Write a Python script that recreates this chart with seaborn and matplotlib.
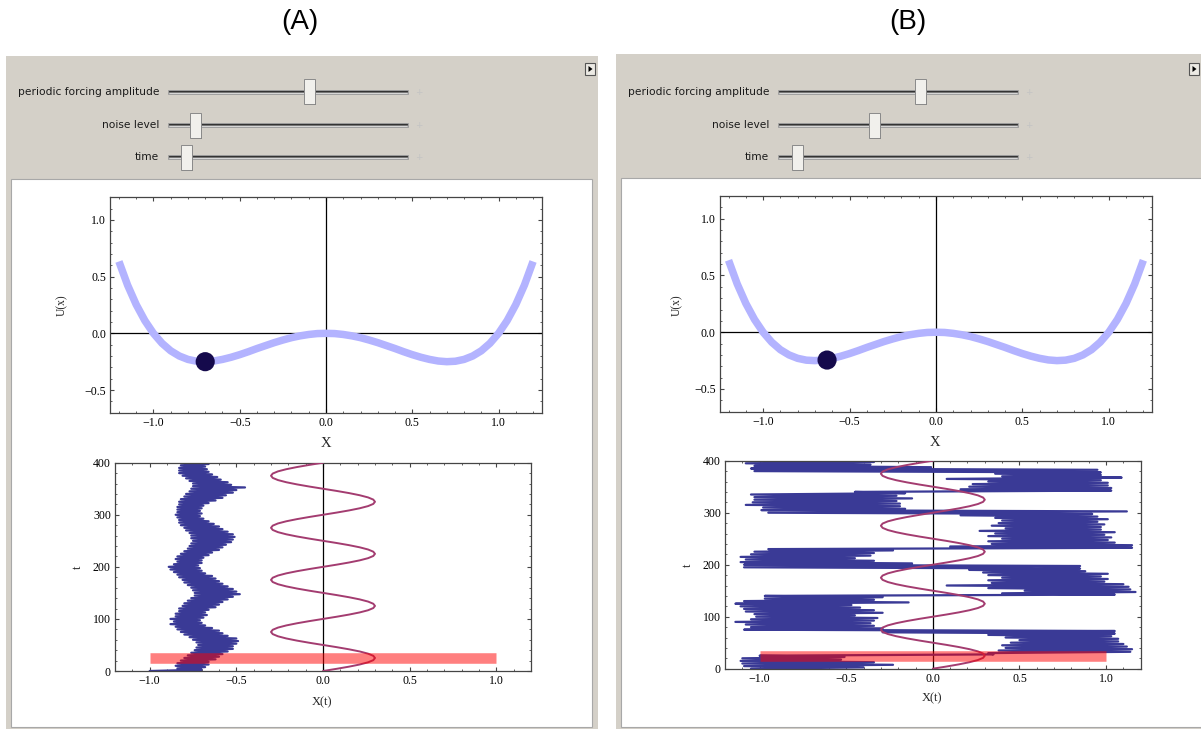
import numpy as np
import pandas as pd
import matplotlib
matplotlib.use("Agg")
import matplotlib.pyplot as plt
import seaborn as sns
from matplotlib.patches import Rectangle, Polygon
from matplotlib.ticker import MultipleLocator

# ---------------------------------------------------------------- data
# double-well potential U(x), sampled along the x axis
POT_X = [-1.2, -1.15, -1.1, -1.05, -1.0, -0.95, -0.9, -0.85, -0.8, -0.75, -0.7, -0.65, -0.6,
         -0.55, -0.5, -0.45, -0.4, -0.35, -0.3, -0.25, -0.2, -0.15, -0.1, -0.05, 0.0,
         0.05, 0.1, 0.15, 0.2, 0.25, 0.3, 0.35, 0.4, 0.45, 0.5, 0.55, 0.6, 0.65, 0.7,
         0.75, 0.8, 0.85, 0.9, 0.95, 1.0, 1.05, 1.1, 1.15, 1.2]
POT_U = [0.634, 0.426, 0.254, 0.113, 0.0, -0.088, -0.154, -0.200, -0.230, -0.246, -0.250, -0.244, -0.230,
         -0.211, -0.188, -0.162, -0.134, -0.108, -0.082, -0.059, -0.038, -0.022, -0.010, -0.002, 0.0,
         -0.002, -0.010, -0.022, -0.038, -0.059, -0.082, -0.108, -0.134, -0.162, -0.188, -0.211, -0.230, -0.244, -0.250,
         -0.246, -0.230, -0.200, -0.154, -0.088, 0.0, 0.113, 0.254, 0.426, 0.634]

# particle position on the potential at the current time
BALL_A = (-0.70, -0.25)
BALL_B = (-0.63, -0.245)

# periodic forcing: one cycle (period 100), repeated over t = 0..400
FORCING_PERIOD = 100
FORCING_CYCLE = [0.0, 0.078, 0.150, 0.212, 0.260, 0.290, 0.300, 0.290, 0.260, 0.212, 0.150, 0.078,
                 0.0, -0.078, -0.150, -0.212, -0.260, -0.290, -0.300, -0.290, -0.260, -0.212, -0.150, -0.078]
N_CYCLES = 4

# current time (red marker) and its x extent
CURRENT_T = 24.5
MARKER_X = (-1.0, 1.0)

# slider settings (fraction of track)
SLIDERS_A = {"periodic forcing amplitude": 0.592, "noise level": 0.117, "time": 0.081}
SLIDERS_B = {"periodic forcing amplitude": 0.594, "noise level": 0.405, "time": 0.082}

# noisy trajectory x(t): left / right extent of the path in each 5-unit time slice
TRAJ_T = list(range(0, 401, 5))
TRAJ_A_LEFT = [-1.00, -0.84, -0.85, -0.84, -0.82, -0.80, -0.78, -0.76, -0.74, -0.73, -0.72, -0.73, -0.75,
               -0.77, -0.80, -0.82, -0.84, -0.85, -0.88, -0.86, -0.88, -0.85, -0.85, -0.83, -0.83, -0.81,
               -0.80, -0.78, -0.76, -0.74, -0.74, -0.75, -0.76, -0.78, -0.80, -0.81, -0.83, -0.84, -0.86,
               -0.88, -0.89, -0.86, -0.84, -0.85, -0.84, -0.82, -0.80, -0.78, -0.77, -0.76, -0.75, -0.76,
               -0.76, -0.77, -0.79, -0.80, -0.82, -0.83, -0.83, -0.84, -0.85, -0.84, -0.84, -0.84, -0.83,
               -0.83, -0.82, -0.80, -0.79, -0.77, -0.76, -0.75, -0.75, -0.77, -0.79, -0.81, -0.83, -0.83,
               -0.83, -0.82, -0.78]
TRAJ_A_RIGHT = [-0.70, -0.68, -0.66, -0.66, -0.62, -0.60, -0.58, -0.55, -0.52, -0.52, -0.50, -0.49, -0.50,
                -0.55, -0.58, -0.60, -0.64, -0.68, -0.70, -0.71, -0.69, -0.67, -0.68, -0.66, -0.62, -0.60,
                -0.58, -0.55, -0.52, -0.48, -0.50, -0.52, -0.55, -0.58, -0.60, -0.62, -0.64, -0.68, -0.70,
                -0.71, -0.72, -0.70, -0.70, -0.69, -0.66, -0.64, -0.60, -0.58, -0.56, -0.53, -0.52, -0.51,
                -0.52, -0.55, -0.58, -0.60, -0.63, -0.66, -0.69, -0.71, -0.70, -0.71, -0.70, -0.69, -0.66,
                -0.62, -0.58, -0.56, -0.52, -0.50, -0.45, -0.53, -0.55, -0.59, -0.61, -0.64, -0.66, -0.67,
                -0.68, -0.66, -0.66]
TRAJ_B_LEFT = [-1.05, -1.09, -1.10, -1.11, -1.10, -1.00, 0.32, 0.38, 0.42, 0.40, 0.45, 0.50, 0.42,
               0.32, -0.29, -1.09, -1.05, -1.08, -1.14, -1.05, -1.02, -1.03, -1.08, -1.09, -1.11, -1.14,
               -1.09, -0.97, -0.97, 0.40, 0.53, 0.32, 0.08, 0.34, 0.32, 0.40, 0.32, 0.29, 0.21,
               -1.09, -1.09, -1.11, -1.08, -1.11, -1.05, -1.03, -0.95, 0.10, 0.34, 0.32, 0.40, 0.32,
               0.36, 0.27, 0.42, 0.34, 0.38, 0.40, 0.36, 0.16, -0.95, -0.99, -0.98, -1.08, -1.04,
               -1.03, -1.03, -1.05, -0.45, 0.16, 0.21, 0.23, 0.32, 0.08, 0.40, 0.36, -1.03, -1.05,
               -1.03, -1.08, -0.90]
TRAJ_B_RIGHT = [-0.40, -0.23, -0.34, -0.53, -0.51, 0.35, 1.14, 1.15, 1.12, 1.10, 1.07, 1.07, 1.03,
                1.05, 1.05, -0.29, -0.34, -0.36, -0.34, -0.32, -0.45, -0.29, -0.34, -0.42, -0.47, -0.14,
                -0.34, -0.29, 1.05, 1.17, 1.14, 1.13, 1.10, 0.99, 1.01, 0.97, 1.01, 0.88, 0.85,
                0.85, -0.12, -0.34, -0.45, -0.36, -0.34, -0.23, 1.15, 1.15, 1.05, 1.01, 1.03, 0.99,
                1.05, 0.97, 0.97, 0.99, 0.95, 1.01, 0.95, 0.92, 1.12, -0.16, -0.19, -0.19, -0.21,
                -0.12, -0.21, -0.16, 1.03, 1.03, 1.01, 1.01, 0.97, 1.09, 0.97, 0.97, 0.95, -0.01,
                -0.36, -0.34, 0.27]

# ---------------------------------------------------------------- style
sns.set_theme(style="white")
plt.rcParams["font.family"] = ["Liberation Serif", "DejaVu Serif"]
plt.rcParams["axes.unicode_minus"] = True

W, H = 1201, 729
fig = plt.figure(figsize=(W / 100, H / 100), dpi=100)
fig.patch.set_facecolor("white")

bg = fig.add_axes([0, 0, 1, 1])
bg.set_xlim(0, W)
bg.set_ylim(H, 0)
bg.axis("off")

PANEL_GREY = "#D4D0C8"
TRAJ_BLUE = "#3A3A96"
FORCE_COL = "#A33C70"
POT_COL = "#B3B3FF"
BALL_COL = "#150A4C"
FRAME_COL = "#454545"


def px_axes(l, t, r, b):
    return fig.add_axes([l / W, 1 - b / H, (r - l) / W, (b - t) / H])


def style_axes(ax):
    for s in ax.spines.values():
        s.set_color(FRAME_COL)
        s.set_linewidth(0.9)
    ax.tick_params(which="both", direction="in", top=True, right=True,
                   bottom=True, left=True, colors=FRAME_COL, labelcolor="black",
                   labelsize=8.6, pad=3)
    ax.tick_params(which="major", length=3.2, width=0.8)
    ax.tick_params(which="minor", length=1.6, width=0.6)
    ax.set_xlabel("")
    ax.set_ylabel("")
    ax.grid(False)
    ax.set_facecolor("white")


def draw_slider(x0, x1, y, frac, label):
    bg.text(x0 - 9, y, label, ha="right", va="center", fontsize=7.7,
            family="DejaVu Sans", color="#1a1a1a")
    bg.add_patch(Rectangle((x0, y - 2), x1 - x0, 4, facecolor="#7a7a7a",
                           edgecolor="#a0a0a0", linewidth=0.6, zorder=2))
    bg.plot([x0 + 1, x1 - 1], [y - 0.8, y - 0.8], color="#333333", lw=0.8, zorder=3)
    bg.plot([x0 + 1, x1 - 1], [y + 1.2, y + 1.2], color="#e8e8e8", lw=0.6, zorder=3)
    tx = x0 + frac * (x1 - x0)
    bg.add_patch(Rectangle((tx - 5, y - 11.5), 11, 25, facecolor="#3c3c3c",
                           edgecolor="none", zorder=4))
    bg.add_patch(Rectangle((tx - 6, y - 12.5), 11, 25, facecolor="#F1F0EC",
                           edgecolor="#8a8a8a", linewidth=0.7, zorder=5))
    bg.text(x1 + 11, y + 0.5, "+", ha="center", va="center", fontsize=6.5,
            family="DejaVu Sans", color="#c4c4c4")


def draw_panel(ox, grey_l, grey_r, grey_t, white_l, white_r, white_t, sliders, title_x, title):
    bg.text(title_x, 22, title, ha="center", va="center", fontsize=20,
            family="Liberation Sans", color="black")
    bg.add_patch(Rectangle((grey_l, grey_t), grey_r - grey_l, H - grey_t,
                           facecolor=PANEL_GREY, edgecolor="none", zorder=0))
    bg.add_patch(Rectangle((white_l, white_t), white_r - white_l, 727 - white_t,
                           facecolor="white", edgecolor="#A8A8A8", linewidth=0.8, zorder=1))
    for (label, frac), y in zip(sliders.items(), [91.5, 125, 157]):
        draw_slider(168 + ox, 408 + ox, y, frac, label)
    # small play button in the corner
    bx, by = grey_r - 13 if grey_r < W else 1189, 63
    bg.add_patch(Rectangle((bx, by), 10, 12, facecolor="#ECEAE4",
                           edgecolor="#555555", linewidth=0.8, zorder=2))
    bg.add_patch(Polygon([[bx + 3.5, by + 3], [bx + 3.5, by + 9], [bx + 7.5, by + 6]],
                         closed=True, facecolor="black", edgecolor="none", zorder=3))


def potential_plot(box, ball, xlab_pos, ylab_pos):
    ax = px_axes(*box)
    pot = pd.DataFrame({"x": POT_X, "U": POT_U})
    ax.axhline(0, color="black", lw=0.9, zorder=1)
    ax.axvline(0, color="black", lw=0.9, zorder=1)
    sns.lineplot(data=pot, x="x", y="U", ax=ax, color=POT_COL, lw=5.4,
                 sort=False, estimator=None, zorder=2, solid_capstyle="butt")
    sns.scatterplot(x=[ball[0]], y=[ball[1]], ax=ax, s=190, color=BALL_COL,
                    edgecolor="none", zorder=3)
    ax.set_xlim(-1.25, 1.25)
    ax.set_ylim(-0.7, 1.2)
    ax.xaxis.set_major_locator(MultipleLocator(0.5))
    ax.xaxis.set_minor_locator(MultipleLocator(0.1))
    ax.yaxis.set_major_locator(MultipleLocator(0.5))
    ax.yaxis.set_minor_locator(MultipleLocator(0.1))
    style_axes(ax)
    bg.text(*xlab_pos, "X", ha="center", va="center", fontsize=10.5)
    bg.text(*ylab_pos, "U(x)", ha="center", va="center", fontsize=8.3, rotation=90)
    return ax


def trajectory_plot(box, left, right, xlab_pos, ylab_pos):
    ax = px_axes(*box)
    # path alternates between the two extremes inside every time slice
    zx, zt = [], []
    for t, lo, hi in zip(TRAJ_T, left, right):
        zx += [lo, hi]
        zt += [t, t + 2.5]
    path = pd.DataFrame({"x": zx, "t": zt})
    ax.axvline(0, color="black", lw=0.9, zorder=1)
    sns.lineplot(data=path, x="x", y="t", ax=ax, color=TRAJ_BLUE, lw=1.6,
                 sort=False, estimator=None, zorder=2)
    ft = np.linspace(0, FORCING_PERIOD * N_CYCLES, len(FORCING_CYCLE) * N_CYCLES + 1)
    fx = FORCING_CYCLE * N_CYCLES + [FORCING_CYCLE[0]]
    sns.lineplot(x=fx, y=ft, ax=ax, color=FORCE_COL, lw=1.4, sort=False,
                 estimator=None, zorder=3)
    ax.plot(list(MARKER_X), [CURRENT_T, CURRENT_T], color="red", alpha=0.5,
            lw=7.6, solid_capstyle="butt", zorder=4)
    ax.set_xlim(-1.2, 1.2)
    ax.set_ylim(0, 400)
    ax.xaxis.set_major_locator(MultipleLocator(0.5))
    ax.xaxis.set_minor_locator(MultipleLocator(0.1))
    ax.yaxis.set_major_locator(MultipleLocator(100))
    ax.yaxis.set_minor_locator(MultipleLocator(20))
    style_axes(ax)
    bg.text(*xlab_pos, "X(t)", ha="center", va="center", fontsize=9)
    bg.text(*ylab_pos, "t", ha="center", va="center", fontsize=9, rotation=90)
    return ax


# panel (A)
draw_panel(0, 6, 598, 55.5, 11, 592, 179, SLIDERS_A, 300, "(A)")
potential_plot((110.3, 197.3, 541.7, 412.7), BALL_A, (326, 443), (62, 305))
trajectory_plot((115, 462.7, 531, 671), TRAJ_A_LEFT, TRAJ_A_RIGHT, (322, 702), (78, 567))

# panel (B)
draw_panel(610, 616, W, 54, 621, W + 5, 178, SLIDERS_B, 908, "(B)")
potential_plot((719.9, 196, 1152, 411.7), BALL_B, (935, 442), (677, 305))
trajectory_plot((725, 460.7, 1140.7, 668.7), TRAJ_B_LEFT, TRAJ_B_RIGHT, (932, 698), (688, 565))

fig.savefig("out.png", dpi=100, facecolor="white")
